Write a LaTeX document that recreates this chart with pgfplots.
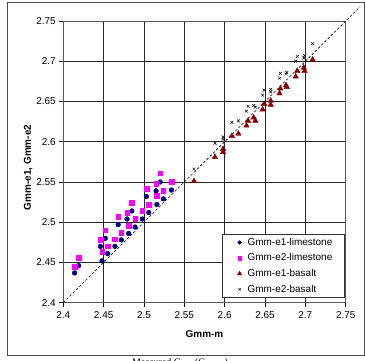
\documentclass[border=0pt]{standalone}
\usepackage{fontspec}
\setmainfont{Liberation Sans}
\newfontfamily\timesfont{Liberation Serif}
\usepackage{pgfplots}
\pgfplotsset{compat=1.18}
\usepackage{pgfplotstable}

\definecolor{limeblue}{HTML}{000080}
\definecolor{limepink}{HTML}{FF00FF}
\definecolor{basred}{HTML}{8B0000}

% Gmm-m, Gmm-e1, Gmm-e2
\pgfplotstableread{
m      e1     e2
2.414  2.437  2.445
2.419  2.446  2.456
2.446  2.470  2.478
2.448  2.452  2.463
2.452  2.480  2.490
2.455  2.461  2.470
2.464  2.470  2.479
2.468  2.497  2.507
2.472  2.478  2.487
2.479  2.504  2.512
2.481  2.486  2.496
2.485  2.514  2.524
2.489  2.494  2.504
2.498  2.504  2.514
2.503  2.532  2.542
2.506  2.512  2.522
2.515  2.539  2.548
2.516  2.522  2.533
2.520  2.550  2.561
2.524  2.529  2.539
2.534  2.540  2.550
}\limestone

\pgfplotstableread{
m      e1     e2
2.562  2.551  2.566
2.588  2.581  2.598
2.598  2.591  2.606
2.598  2.587  2.603
2.609  2.607  2.624
2.617  2.610  2.626
2.627  2.620  2.638
2.629  2.626  2.644
2.636  2.630  2.645
2.638  2.626  2.643
2.647  2.640  2.658
2.649  2.647  2.664
2.657  2.651  2.665
2.657  2.646  2.662
2.668  2.660  2.679
2.669  2.666  2.685
2.676  2.670  2.684
2.677  2.668  2.686
2.688  2.681  2.700
2.690  2.688  2.706
2.698  2.692  2.704
2.699  2.688  2.707
2.709  2.702  2.722
}\basalt

\begin{document}
\begin{tikzpicture}[x=1bp,y=1bp]
\begin{axis}[
  name=ax, at={(0,0)}, anchor=south west,
  scale only axis, width=282.4bp, height=281.7bp,
  xmin=2.4, xmax=2.75, ymin=2.4, ymax=2.75,
  clip=false,
  xtick={2.4,2.45,2.5,2.55,2.6,2.65,2.7,2.75},
  xticklabels={2.4,2.45,2.5,2.55,2.6,2.65,2.7,2.75},
  ytick={2.4,2.45,2.5,2.55,2.6,2.65,2.7,2.75},
  yticklabels={2.4,2.45,2.5,2.55,2.6,2.65,2.7,2.75},
  /pgf/number format/assume math mode=true,
  grid=major, grid style={black!85, line width=0.75bp},
  axis line style={black!65, line width=0.75bp},
  tick align=outside, tick pos=left,
  major tick length=4bp, tick style={black, line width=0.75bp},
  ticklabel style={font=\fontsize{10}{12}\selectfont},
  xticklabel style={yshift=-1.5bp},
  xlabel={Gmm-m}, ylabel={Gmm-e1, Gmm-e2},
  label style={font=\bfseries\fontsize{10}{12}\selectfont},
  xlabel style={at={(axis description cs:0.5,-0.112)}, anchor=center},
  ylabel style={at={(axis description cs:-0.124,0.48)}, anchor=center},
  legend style={at={(rel axis cs:0.562,0.243)}, anchor=north west,
    draw=black!80, line width=0.6bp, fill=white,
    font=\fontsize{10}{12}\selectfont,
    inner xsep=0bp, inner ysep=3.2bp, row sep=6.1bp,
    nodes={inner sep=0bp, text height=7.5bp, text depth=2bp},
    column sep=3.7bp},
  legend cell align=left,
  legend image code/.code={%
    \path (-17bp,0bp) (4bp,0bp);
    \draw[#1, every mark/.append style={scale=0.75}] plot coordinates {(0bp,0bp)};},
]
% 1:1 reference line
\addplot[black, line width=0.6bp, dash pattern=on 2.5bp off 2bp, forget plot]
  coordinates {(2.4,2.4) (2.768,2.768)};

\addplot[only marks, mark=*, mark size=2.4bp, draw=limeblue, fill=limeblue]
  table[x=m, y=e1] {\limestone};
\addlegendentry{\makebox[97bp][l]{Gmm-e1-limestone}}

\addplot[only marks, mark=square*, mark size=2.3bp, draw=limepink, fill=limepink]
  table[x=m, y=e2] {\limestone};
\addlegendentry{\makebox[97bp][l]{Gmm-e2-limestone}}

\addplot[only marks, mark=triangle*, mark size=3.2bp, draw=basred, fill=basred]
  table[x=m, y=e1] {\basalt};
\addlegendentry{\makebox[97bp][l]{Gmm-e1-basalt}}

\addplot[only marks, mark=x, mark size=2bp, draw=black, line width=0.5bp]
  table[x=m, y=e2] {\basalt};
\addlegendentry{\makebox[97bp][l]{Gmm-e2-basalt}}
\end{axis}

\begin{scope}[shift={(ax.south west)}]
  \draw[black!70, line width=0.8bp] (-55.8,-52.3) rectangle (300.7,300);
  \node[font=\timesfont\fontsize{10}{12}\selectfont, anchor=base]
    at (116.7,-62.3) {Measured G\textsubscript{mm} (G\textsubscript{mm-m})};
  \pgfresetboundingbox
  \path[use as bounding box] (-63.3,-58.3) rectangle (301.7,302.7);
\end{scope}
\end{tikzpicture}
\end{document}
